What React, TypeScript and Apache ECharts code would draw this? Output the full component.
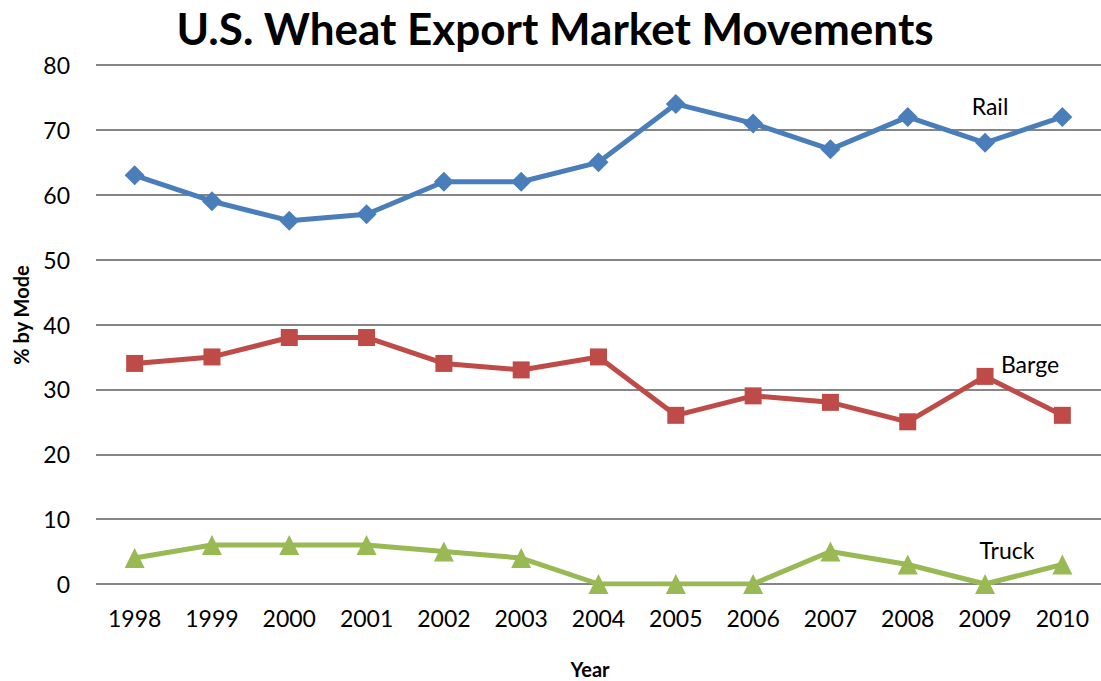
import React, { useEffect, useRef } from "react";
import * as echarts from "echarts";

const years = ["1998","1999","2000","2001","2002","2003","2004","2005","2006","2007","2008","2009","2010"];
const rail = [63, 59, 56, 57, 62, 62, 65, 74, 71, 67, 72, 68, 72];
const barge = [34, 35, 38, 38, 34, 33, 35, 26, 29, 28, 25, 32, 26];
const truck = [4, 6, 6, 6, 5, 4, 0, 0, 0, 5, 3, 0, 3];
const seriesNames = ["Rail", "Barge", "Truck"];
const titleText = "U.S. Wheat Export Market Movements";
const yAxisTitle = "% by Mode";
const xAxisTitle = "Year";

const FONT = "Lato, 'Open Sans', sans-serif";

export default function App() {
  const ref = useRef<HTMLDivElement>(null);
  useEffect(() => {
    if (!ref.current) return;
    const chart = echarts.init(ref.current, null, { renderer: "svg" });
    const mk = (name: string, data: number[], color: string, symbol: string, size: number) => ({
      name,
      type: "line",
      data,
      symbol,
      symbolSize: size,
      lineStyle: { color, width: 5 },
      itemStyle: { color },
      z: 3,
    });
    chart.setOption({
      animation: false,
      backgroundColor: "#ffffff",
      textStyle: { fontFamily: FONT },
      title: {
        text: titleText,
        left: 550,
        textAlign: "center",
        top: 1,
        textStyle: { fontFamily: FONT, fontSize: 44, fontWeight: "bold", color: "#000" },
      },
      grid: { left: 96, right: 0, top: 65, bottom: 97, containLabel: false, outerBoundsMode: "none" },
      xAxis: {
        type: "category",
        data: years,
        boundaryGap: true,
        axisLine: { show: false },
        axisTick: { show: false },
        axisLabel: { fontFamily: FONT, fontSize: 23, color: "#000", margin: 22 },
      },
      yAxis: {
        type: "value",
        min: 0,
        max: 80,
        interval: 10,
        axisLine: { show: false },
        axisTick: { show: false },
        axisLabel: { fontFamily: FONT, fontSize: 23, color: "#000", margin: 26 },
        splitLine: { lineStyle: { color: "#868686", width: 2 } },
      },
      series: [
        mk(seriesNames[0], rail, "#4A7EBB", "diamond", 20),
        mk(seriesNames[1], barge, "#BE4B48", "rect", 17),
        mk(seriesNames[2], truck, "#98B954", "triangle", 20),
      ],
      graphic: [
        { type: "text", x: 21, y: 315, rotation: Math.PI / 2, style: { text: yAxisTitle, font: `bold 20px ${FONT}`, fill: "#000", textAlign: "center", textVerticalAlign: "middle" } },
        { type: "text", x: 590, y: 669, style: { text: xAxisTitle, font: `bold 20px ${FONT}`, fill: "#000", textAlign: "center", textVerticalAlign: "middle" } },
        { type: "text", x: 990, y: 106, style: { text: seriesNames[0], font: `23px ${FONT}`, fill: "#000", textAlign: "center", textVerticalAlign: "middle" } },
        { type: "text", x: 1030, y: 364, style: { text: seriesNames[1], font: `23px ${FONT}`, fill: "#000", textAlign: "center", textVerticalAlign: "middle" } },
        { type: "text", x: 1007, y: 550, style: { text: seriesNames[2], font: `23px ${FONT}`, fill: "#000", textAlign: "center", textVerticalAlign: "middle" } },
      ],
    });
    return () => chart.dispose();
  }, []);
  return (
    <div
      ref={ref}
      style={{ position: "fixed", left: 0, top: 0, width: 1101, height: 681 }}
    />
  );
}
